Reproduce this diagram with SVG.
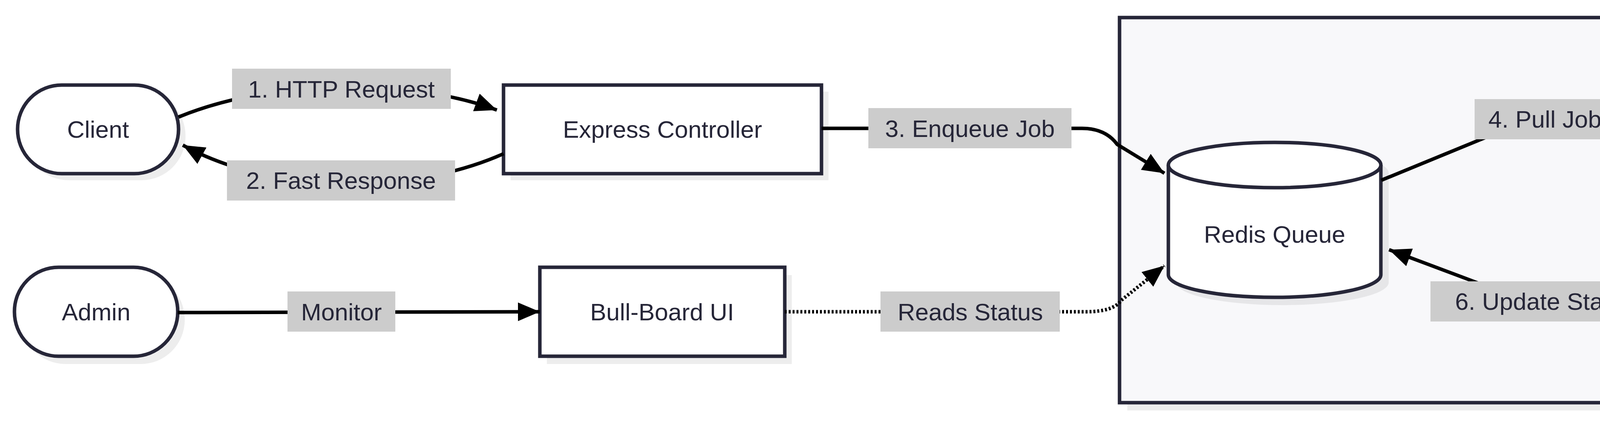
<svg xmlns="http://www.w3.org/2000/svg" width="7122" height="1079" viewBox="0 0 7122 1079">
<style>
.n{fill:#fff;stroke:#262638;stroke-width:9}
.sh{fill:#000;opacity:0.07}
.t{font-family:"Liberation Sans",Arial,sans-serif;font-size:62px;fill:#262638;text-anchor:middle;dominant-baseline:central}
.e{fill:none;stroke:#000;stroke-width:9}
.d{stroke-dasharray:5 5}
.lb{fill:#cccccc}
</style>
<defs>
<marker id="a" markerUnits="userSpaceOnUse" markerWidth="60" markerHeight="50" refX="56" refY="24" orient="auto"><path d="M0,0 L56,24 L0,48 Z" fill="#000"/></marker>
</defs>
<rect width="7122" height="1079" fill="#fff"/>
<g id="cluster">
<rect x="2886" y="65" width="4218" height="987" class="sh"/>
<rect x="2866" y="45" width="4218" height="987" fill="#f8f8fa" stroke="#262638" stroke-width="9"/>
<text x="4975" y="92" class="t">Background Process</text>
</g>
<g id="client"><rect x="63" y="235" width="412" height="227" rx="113" class="sh"/><rect x="45" y="218" width="412" height="227" rx="113" class="n"/><text x="251" y="331" class="t">Client</text></g>
<g id="express"><rect x="1307" y="235" width="814" height="227" class="sh"/><rect x="1289" y="218" width="814" height="227" class="n"/><text x="1696" y="331" class="t">Express Controller</text></g>
<g id="admin"><rect x="55" y="705" width="418" height="228" rx="113" class="sh"/><rect x="37" y="685" width="418" height="228" rx="113" class="n"/><text x="246" y="799" class="t">Admin</text></g>
<g id="bullboard"><rect x="1400" y="705" width="627" height="228" class="sh"/><rect x="1382" y="685" width="627" height="228" class="n"/><text x="1695" y="799" class="t">Bull-Board UI</text></g>
<g id="redis">
<path d="M3011,443 A272,58 0 0 1 3555,443 V724 A272,58 0 0 1 3011,724 Z" class="sh"/>
<path d="M2991,423 A272,58 0 0 1 3535,423 V704 A272,58 0 0 1 2991,704 Z" class="n"/>
<path d="M2991,423 A272,58 0 0 0 3535,423" class="n" fill="none"/>
<text x="3263" y="600" class="t">Redis Queue</text></g>
<g id="worker"><rect x="4392" y="471" width="670" height="227" class="sh"/><rect x="4374" y="451" width="670" height="227" class="n"/><text x="4709" y="564" class="t">BullMQ Worker</text></g>
<g id="send"><rect x="5846" y="471" width="1130" height="227" rx="70" class="sh"/><rect x="5828" y="451" width="1130" height="227" rx="70" class="n"/><text x="6393" y="564" class="t">Send Email / Process Image</text></g>
<g id="edges">
<path d="M457,300 C700,200 1050,200 1272,282" class="e" marker-end="url(#a)"/>
<path d="M1289,394 C1050,500 700,500 468,372" class="e" marker-end="url(#a)"/>
<path d="M2103,329 L2770,329 Q2830,329 2860,370 L2981,444" class="e" marker-end="url(#a)"/>
<path d="M455,801 L1382,799" class="e" marker-end="url(#a)"/>
<path d="M2009,799 L2780,799 Q2850,799 2870,770 L2981,681" class="e d" marker-end="url(#a)"/>
<path d="M3536,462 L3955,290 L4366,451" class="e" marker-end="url(#a)" stroke-linejoin="round"/>
<path d="M4374,655 L3956,790 L3556,640" class="e" marker-end="url(#a)"/>
<path d="M5044,564 L5820,564" class="e d" marker-end="url(#a)"/>
<rect x="594" y="176" width="560" height="103" class="lb"/><text x="874" y="228" class="t">1. HTTP Request</text>
<rect x="581" y="411" width="584" height="103" class="lb"/><text x="873" y="462" class="t">2. Fast Response</text>
<rect x="2223" y="277" width="520" height="103" class="lb"/><text x="2483" y="329" class="t">3. Enqueue Job</text>
<rect x="736" y="747" width="276" height="103" class="lb"/><text x="874" y="799" class="t">Monitor</text>
<rect x="2254" y="747" width="459" height="103" class="lb"/><text x="2484" y="799" class="t">Reads Status</text>
<rect x="3775" y="254" width="360" height="103" class="lb"/><text x="3955" y="305" class="t">4. Pull Job</text>
<rect x="3662" y="721" width="589" height="103" class="lb"/><text x="3956" y="772" class="t">6. Update Status</text>
<rect x="5166" y="512" width="540" height="103" class="lb"/><text x="5436" y="564" class="t">5. Process Task</text>
</g>
</svg>
